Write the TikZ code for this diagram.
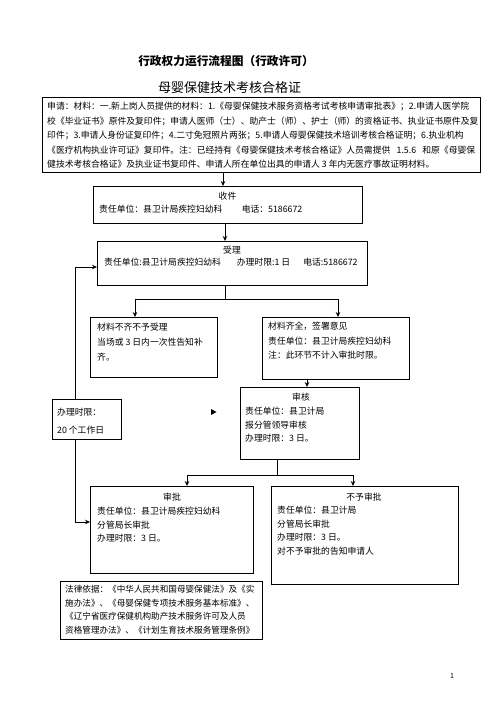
\documentclass[tikz,border=0pt]{standalone}
\usepackage{fontspec}
\setmainfont{Noto Sans CJK SC}
\usetikzlibrary{arrows.meta,calc}
\XeTeXlinebreaklocale "zh"
\XeTeXlinebreakskip=0pt plus 2pt
\begin{document}
\begin{tikzpicture}[x=1pt,y=-1pt,
  box/.style={draw, line width=0.8pt, inner sep=0pt, anchor=north west},
  txt/.style={anchor=north west, inner sep=0pt, align=left, font=\fontsize{8.8}{14.5}\selectfont},
  ctxt/.style={anchor=north, inner sep=0pt, font=\fontsize{8.8}{14.5}\selectfont},
  arr/.style={line width=0.8pt, -{Stealth[length=5pt,width=4.5pt]}},
  ln/.style={line width=0.8pt}]
\useasboundingbox (0,0) rectangle (496,702);

% titles
\node[anchor=north, inner sep=0pt, font=\fontsize{11.7}{14}\selectfont\bfseries] (title) at (226,55) {行政权力运行流程图（行政许可）};
\node[anchor=north, inner sep=0pt, font=\fontsize{13}{15}\selectfont] (subtitle) at (229.5,81) {母婴保健技术考核合格证};

% application
\node[box, minimum width=438pt, minimum height=75pt] (app) at (42,97) {};
\node[txt, font=\fontsize{8.8}{14.5}\selectfont] (apptxt) at (47,102) {%
\hbox to 428pt{申请：材料：一.新上岗人员提供的材料：1.《母婴保健技术服务资格考试考核申请审批表》；2.申请人医学院}\\
\hbox to 428pt{校《毕业证书》原件及复印件；申请人医师（士）、助产士（师）、护士（师）的资格证书、执业证书原件及复}\\
\hbox to 428pt{印件；3.申请人身份证复印件；4.二寸免冠照片两张；5.申请人母婴保健技术培训考核合格证明；6.执业机构}\\
\hbox to 428pt{《医疗机构执业许可证》复印件。注：已经持有《母婴保健技术考核合格证》人员需提供 1.5.6 和原《母婴保}\\
健技术考核合格证》及执业证书复印件、申请人所在单位出具的申请人 3 年内无医疗事故证明材料。};

% 收件
\node[box, minimum width=269pt, minimum height=37pt] (shoujian) at (93,186) {};
\node[ctxt] (shoujianT) at (227.5,192) {收件};
\node[txt] (shoujianL) at (99,205) {责任单位：县卫计局疾控妇幼科\hspace{2.2em}电话：5186672};

% 受理
\node[box, minimum width=270pt, minimum height=44pt] (shouli) at (97,241) {};
\node[ctxt] (shouliT) at (232,246) {受理};
\node[txt] (shouliL) at (104,258) {责任单位:县卫计局疾控妇幼科\hspace{1.8em}办理时限:1 日\hspace{1.5em}电话:5186672};

% 办理时限 (left)
\node[box, minimum width=69pt, minimum height=40pt] (limit) at (52,399) {};
\node[txt, font=\fontsize{8.8}{18}\selectfont] (limitT) at (57,408) {办理时限：\\20 个工作日};

% 材料不齐
\node[box, minimum width=127pt, minimum height=60pt] (buqi) at (90,317) {};
\node[txt, font=\fontsize{8.8}{15}\selectfont] (buqiT) at (97,323) {材料不齐不予受理\\当场或 3 日内一次性告知补\\齐。};

% 材料齐全
\node[box, minimum width=147pt, minimum height=62pt] (qiquan) at (262,317) {};
\node[txt] (qiquanT) at (268,322) {材料齐全，签署意见\\责任单位：县卫计局疾控妇幼科\\注：此环节不计入审批时限。};

% 审核
\node[box, minimum width=119pt, minimum height=72pt] (shenhe) at (240,387) {};
\node[ctxt] (shenheT) at (301,393) {审核};
\node[txt, font=\fontsize{8.8}{13.5}\selectfont] (shenheL) at (245,407) {责任单位：县卫计局\\报分管领导审核\\办理时限：3 日。};

% 审批
\node[box, minimum width=163pt, minimum height=87pt] (shenpi) at (90,486) {};
\node[ctxt] (shenpiT) at (172,493) {审批};
\node[txt, font=\fontsize{8.8}{13.5}\selectfont] (shenpiL) at (97,507) {责任单位：县卫计局疾控妇幼科\\分管局长审批\\办理时限：3 日。};

% 不予审批
\node[box, minimum width=187pt, minimum height=98pt] (buyu) at (271,486) {};
\node[ctxt] (buyuT) at (364,493) {不予审批};
\node[txt, font=\fontsize{8.8}{13.5}\selectfont] (buyuL) at (277,506) {责任单位：县卫计局\\分管局长审批\\办理时限：3 日。\\对不予审批的告知申请人};

% 法律依据
\node[box, minimum width=202pt, minimum height=58pt] (law) at (60,581) {};
\node[txt, font=\fontsize{8.6}{13.7}\selectfont] (lawT) at (65,585) {%
\hbox to 192pt{法律依据：《中华人民共和国母婴保健法》及《实}\\
\hbox to 192pt{施办法》、《母婴保健专项技术服务基本标准》、}\\
\hbox to 192pt{《辽宁省医疗保健机构助产技术服务许可及人员}\\
\hbox to 192pt{资格管理办法》、《计划生育技术服务管理条例》}};

% page number
\node[inner sep=0pt, font=\fontsize{7}{8}\selectfont] (pageno) at (452,676) {1};

% connectors
\coordinate (j1) at (225,299);
\coordinate (j2) at (277,475);
\draw[arr] (app.south -| 223,0) -- (223,186);
\draw[arr] (shoujian.south -| 225,0) -- (shouli.north -| 225,0);
\draw[ln] (shouli.south -| j1) -- (j1);
\draw[arr] (j1) -| (buqi.north -| 135,0);
\draw[arr] (j1) -| (qiquan.north -| 338,0);
\draw[arr] (qiquan.south -| 307,0) -- (shenhe.north -| 307,0);
\draw[ln] (shenhe.south -| j2) -- (j2);
\draw[arr] (j2) -| (shenpi.north -| 187,0);
\draw[arr] (j2) -| (buyu.north -| 353,0);
\draw[arr] (limit.north -| 75,0) |- (shouli.west |- 0,267);
\draw[arr] (limit.south -| 75,0) |- (shenpi.west |- 0,522);

% stray arrowhead
\fill (211,409) -- (216.5,412) -- (211,415) -- cycle;
\end{tikzpicture}
\end{document}
